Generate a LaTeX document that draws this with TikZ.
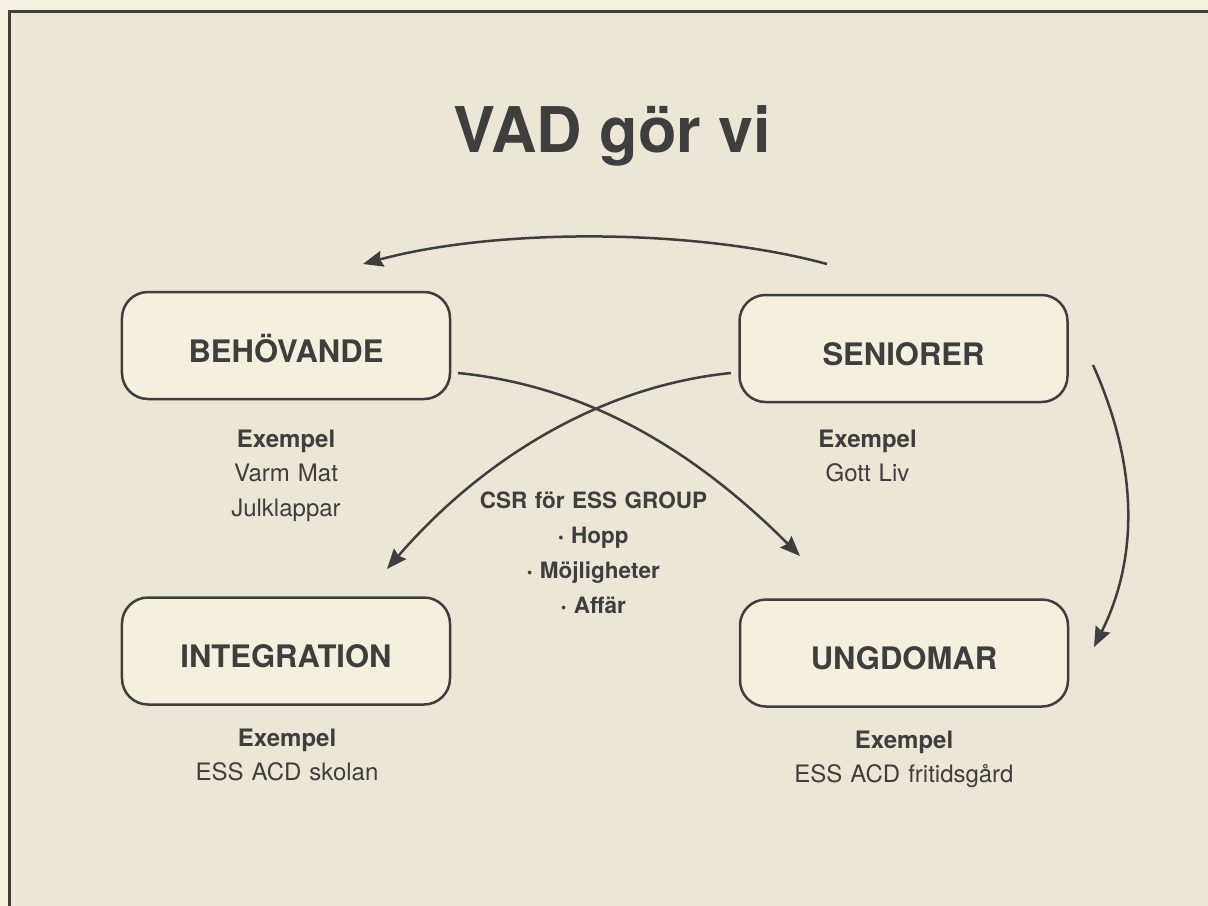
\documentclass[tikz,border=0pt]{standalone}
\usepackage{fontspec}
\setmainfont{TeX Gyre Heros}
\usetikzlibrary{arrows.meta}
\definecolor{outerbg}{RGB}{245,240,223}
\definecolor{innerbg}{RGB}{236,230,214}
\definecolor{boxfill}{RGB}{245,239,222}
\definecolor{ink}{RGB}{62,62,62}
\newcommand{\blt}{{\fontsize{15bp}{15bp}\selectfont\raisebox{0.5bp}{•}}~}
\begin{document}
\begin{tikzpicture}[x=1bp,y=-1bp,
  box/.style={draw=ink, line width=2.5bp, fill=boxfill, rounded corners=26bp,
    minimum width=328bp, minimum height=107bp, inner sep=0bp, text=ink,
    font=\fontsize{31bp}{31bp}\selectfont\bfseries, text height=33.3bp, text depth=0bp},
  info/.style={text=ink, anchor=base, inner sep=0bp, text width=300bp, align=center,
    font=\fontsize{24bp}{34.8bp}\selectfont},
  conn/.style={draw=ink, line width=2.5bp, -{Stealth[length=20bp,width=16bp,inset=2.5bp]}}
]
\useasboundingbox (0,0) rectangle (1208,906);
\fill[outerbg] (0,0) rectangle (1208,906);
\fill[innerbg] (9.5,11.5) rectangle (1208,906);
\draw[ink, line width=3bp] (9.5,906) -- (9.5,11.5) -- (1208,11.5);

\node[text=ink, font=\fontsize{63bp}{63bp}\selectfont\bfseries, anchor=base, inner sep=0bp] (title) at (612.5,152) {VAD gör vi};

\node[box] (beh) at (286,345.5) {BEHÖVANDE};
\node[box] (sen) at (903.5,348.5) {SENIORER};
\node[box] (int) at (286,651) {INTEGRATION};
\node[box] (ung) at (904,653) {UNGDOMAR};

\node[info] (behx) at (286,447) {\textbf{Exempel}\\Varm Mat\\Julklappar};
\node[info] (senx) at (867.5,447) {\textbf{Exempel}\\Gott Liv};
\node[info] (intx) at (287,746) {\textbf{Exempel}\\ESS ACD skolan};
\node[info] (ungx) at (904,748) {\textbf{Exempel}\\ESS ACD fritidsgård};

\node[info, font=\fontsize{22.5bp}{35bp}\selectfont\bfseries] (csr) at (593.5,508)
  {CSR för ESS GROUP\\\blt Hopp\\\blt Möjligheter\\\blt Affär};

\coordinate (t1) at (827,264);
\coordinate (t2) at (363,264);
\coordinate (a1) at (458,373);
\coordinate (a2) at (800,556);
\coordinate (b1) at (731,373);
\coordinate (b2) at (387,569);
\coordinate (r1) at (1093,365);
\coordinate (r2) at (1094,647);

\draw[conn] (t1) .. controls (694,228) and (496,228) .. (t2);
\draw[conn] (a1) .. controls (588,386) and (695,451) .. (a2);
\draw[conn] (b1) .. controls (601,386) and (482,459) .. (b2);
\draw[conn] (r1) .. controls (1138,465) and (1139,557) .. (r2);
\end{tikzpicture}
\end{document}
